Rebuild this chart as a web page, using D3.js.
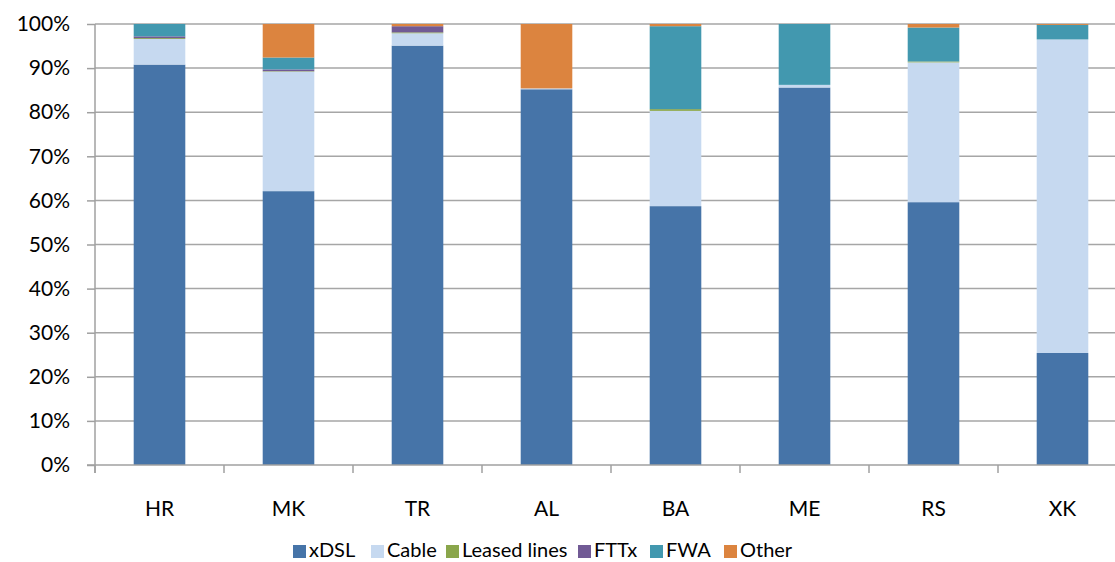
<!DOCTYPE html>
<html>
<head>
<meta charset="utf-8">
<script src="https://cdn.jsdelivr.net/npm/d3@7"></script>
<style>
  html, body { margin: 0; padding: 0; background: #fff; }
  svg { display: block; font-family: "Lato", "Open Sans", sans-serif; }
</style>
</head>
<body>
<svg id="chart" width="1115" height="562"></svg>
<script>
// Broadband subscriptions by access technology, share of total (%)
const countries = ["HR", "MK", "TR", "AL", "BA", "ME", "RS", "XK"];
const technologies = ["xDSL", "Cable", "Leased lines", "FTTx", "FWA", "Other"];
const colors = ["#4674A8", "#C6D9F0", "#8AA64B", "#715A95", "#4298AF", "#DC843F"];

const xDSL        = [90.8, 62.1, 95.1, 85.2, 58.7, 85.6, 59.6, 25.4];
const cable       = [ 5.8, 27.1,  2.8,  0.2, 21.6,  0.6, 31.7, 71.1];
const leasedLines = [ 0.2,  0.1,  0.2,  0.0,  0.4,  0.0,  0.2,  0.0];
const fttx        = [ 0.4,  0.4,  1.4,  0.0,  0.0,  0.0,  0.0,  0.0];
const fwa         = [ 2.8,  2.7,  0.0,  0.0, 18.8, 13.8,  7.7,  3.3];
const other       = [ 0.0,  7.6,  0.5, 14.6,  0.5,  0.0,  0.8,  0.2];

const yTicks = [0, 10, 20, 30, 40, 50, 60, 70, 80, 90, 100];

const seriesValues = [xDSL, cable, leasedLines, fttx, fwa, other];
const rows = countries.map((c, i) => {
  const r = { country: c };
  technologies.forEach((t, k) => { r[t] = seriesValues[k][i]; });
  return r;
});

const svg = d3.select("#chart");
const plotLeft = 95, plotRight = 1127, plotTop = 24, plotBottom = 465;

const x = d3.scaleBand().domain(countries).range([plotLeft, plotRight]).paddingInner(0.6).paddingOuter(0.3);
const xTickScale = d3.scaleBand().domain(countries).range([plotLeft, plotRight]);
const y = d3.scaleLinear().domain([0, 100]).range([plotBottom, plotTop]);

// horizontal gridlines
svg.append("g")
  .selectAll("line")
  .data(yTicks.filter(d => d > 0))
  .join("line")
  .attr("x1", plotLeft).attr("x2", plotRight)
  .attr("y1", d => y(d)).attr("y2", d => y(d))
  .attr("stroke", "#A6A6A6").attr("stroke-width", 1.5);

// stacked bars
const stack = d3.stack().keys(technologies);
const layers = stack(rows);
svg.append("g")
  .selectAll("g")
  .data(layers)
  .join("g")
  .attr("fill", (d, i) => colors[i])
  .selectAll("rect")
  .data(d => d)
  .join("rect")
  .attr("x", d => x(d.data.country))
  .attr("width", x.bandwidth())
  .attr("y", d => y(d[1]))
  .attr("height", d => Math.max(0, y(d[0]) - y(d[1])));

// y axis
const yAxis = d3.axisLeft(y).tickValues(yTicks).tickFormat(d => d + "%").tickSize(8).tickPadding(17);
const gy = svg.append("g").attr("transform", `translate(${plotLeft},0)`).call(yAxis);
gy.select(".domain").attr("stroke", "#A0A0A0").attr("stroke-width", 1.5).attr("d", `M0,${plotBottom + 8}V${plotTop}`);
gy.selectAll(".tick line").attr("stroke", "#A0A0A0").attr("stroke-width", 1.5);
gy.selectAll(".tick text").attr("fill", "#000").style("font-size", "21px").style("font-family", "Lato, 'Open Sans', sans-serif");

// x axis: baseline with separators between categories
const gx = svg.append("g");
gx.append("line")
  .attr("x1", plotLeft - 8).attr("x2", plotRight)
  .attr("y1", plotBottom).attr("y2", plotBottom)
  .attr("stroke", "#A0A0A0").attr("stroke-width", 1.5);
gx.selectAll("line.sep")
  .data(countries)
  .join("line")
  .attr("class", "sep")
  .attr("x1", d => xTickScale(d)).attr("x2", d => xTickScale(d))
  .attr("y1", plotBottom).attr("y2", plotBottom + 8)
  .attr("stroke", "#A0A0A0").attr("stroke-width", 1.5);
gx.selectAll("text")
  .data(countries)
  .join("text")
  .attr("x", d => x(d) + x.bandwidth() / 2)
  .attr("y", 516)
  .attr("text-anchor", "middle")
  .style("font-size", "21px")
  .attr("fill", "#000")
  .text(d => d);

// legend
const legendItems = [
  { name: "xDSL", x: 293 },
  { name: "Cable", x: 371 },
  { name: "Leased lines", x: 446 },
  { name: "FTTx", x: 578 },
  { name: "FWA", x: 650 },
  { name: "Other", x: 724 }
];
const lg = svg.append("g").selectAll("g").data(legendItems).join("g")
  .attr("transform", d => `translate(${d.x},0)`);
lg.append("rect")
  .attr("x", 0).attr("y", 545).attr("width", 13).attr("height", 13)
  .attr("fill", (d, i) => colors[i]);
lg.append("text")
  .attr("x", 16).attr("y", 557)
  .style("font-size", "20px")
  .attr("fill", "#000")
  .text(d => d.name);
</script>
</body>
</html>
